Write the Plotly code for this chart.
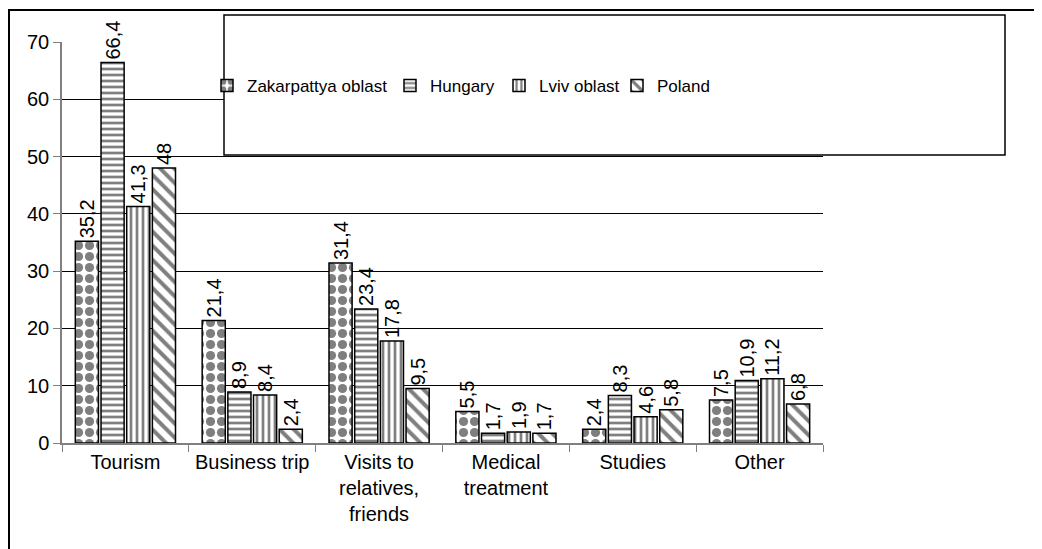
import plotly.graph_objects as go

categories = ["Tourism", "Business trip", "Visits to<br>relatives,<br>friends",
              "Medical<br>treatment", "Studies", "Other"]
series_names = ["Zakarpattya oblast", "Hungary", "Lviv oblast", "Poland"]
zakarpattya = [35.2, 21.4, 31.4, 5.5, 2.4, 7.5]
hungary = [66.4, 8.9, 23.4, 1.7, 8.3, 10.9]
lviv = [41.3, 8.4, 17.8, 1.9, 4.6, 11.2]
poland = [48, 2.4, 9.5, 1.7, 5.8, 6.8]
y_ticks = [0, 10, 20, 30, 40, 50, 60, 70]

series_values = [zakarpattya, hungary, lviv, poland]
patterns = [
    dict(shape=".", size=11, solidity=0.55),
    dict(shape="-", size=6, solidity=0.45),
    dict(shape="|", size=6, solidity=0.45),
    dict(shape="\\", size=10, solidity=0.4),
]
legend_ids = ["legend", "legend2", "legend3", "legend4"]
legend_text_x = [247, 430, 539, 657]  # screen px where each legend label starts

FONT = "Liberation Sans, Arial, sans-serif"

fig = go.Figure()
for name, vals, pat, lid in zip(series_names, series_values, patterns, legend_ids):
    fig.add_trace(go.Bar(
        name=name,
        x=categories,
        y=vals,
        legend=lid,
        text=[f"{v:g}".replace(".", ",") for v in vals],
        textposition="outside",
        textangle=-90,
        constraintext="none",
        cliponaxis=False,
        textfont=dict(family=FONT, size=20, color="black"),
        marker=dict(
            color="white",
            line=dict(color="black", width=1.5),
            pattern=dict(fgcolor="black", bgcolor="white", fillmode="overlay", **pat),
        ),
    ))

OFF = 8  # browser body margin
W, H = 1042 - OFF, 549 - OFF
L, T = 62 - OFF, 42 - OFF
R = W - (823 - OFF)
B = H - (443 - OFF)
pw, ph = W - L - R, H - T - B


def px(x):
    return (x - OFF - L) / pw


def py(y):
    return (H - B - (y - OFF)) / ph


legend_layout = {}
for lid, tx in zip(legend_ids, legend_text_x):
    legend_layout[lid] = dict(
        orientation="h",
        x=px(tx - 40), xanchor="left",
        y=py(86), yanchor="middle",
        bgcolor="rgba(0,0,0,0)",
        borderwidth=0,
        font=dict(family=FONT, size=17, color="black"),
        itemwidth=30,
    )

fig.update_layout(
    width=W, height=H, autosize=False,
    margin=dict(l=L, r=R, t=T, b=B),
    paper_bgcolor="white", plot_bgcolor="white",
    barmode="group", bargap=0.19, bargroupgap=0.1,
    font=dict(family=FONT, size=20, color="black"),
    showlegend=True,
    **legend_layout,
    xaxis=dict(
        showline=True, linecolor="#808080", linewidth=1.5,
        ticks="outside", tickson="boundaries", ticklen=7, tickcolor="#808080",
        tickfont=dict(family=FONT, size=20, color="black"),
        showgrid=False,
    ),
    yaxis=dict(
        range=[0, 70], tickvals=y_ticks,
        showline=True, linecolor="#808080", linewidth=1.5,
        ticks="outside", ticklen=7, tickcolor="#808080",
        tickfont=dict(family=FONT, size=20, color="black"),
        showgrid=True, gridcolor="black", gridwidth=1,
        zeroline=False,
    ),
    shapes=[
        dict(type="rect", xref="paper", yref="paper",
             x0=px(224), x1=px(1005), y0=py(155), y1=py(15),
             line=dict(color="black", width=1.5), fillcolor="white", layer="above"),
        dict(type="line", xref="paper", yref="paper",
             x0=px(8), x1=px(1045), y0=py(10), y1=py(10),
             line=dict(color="black", width=2)),
        dict(type="line", xref="paper", yref="paper",
             x0=px(9), x1=px(9), y0=py(10), y1=py(552),
             line=dict(color="black", width=2)),
    ],
)

fig.write_html("out.html")
